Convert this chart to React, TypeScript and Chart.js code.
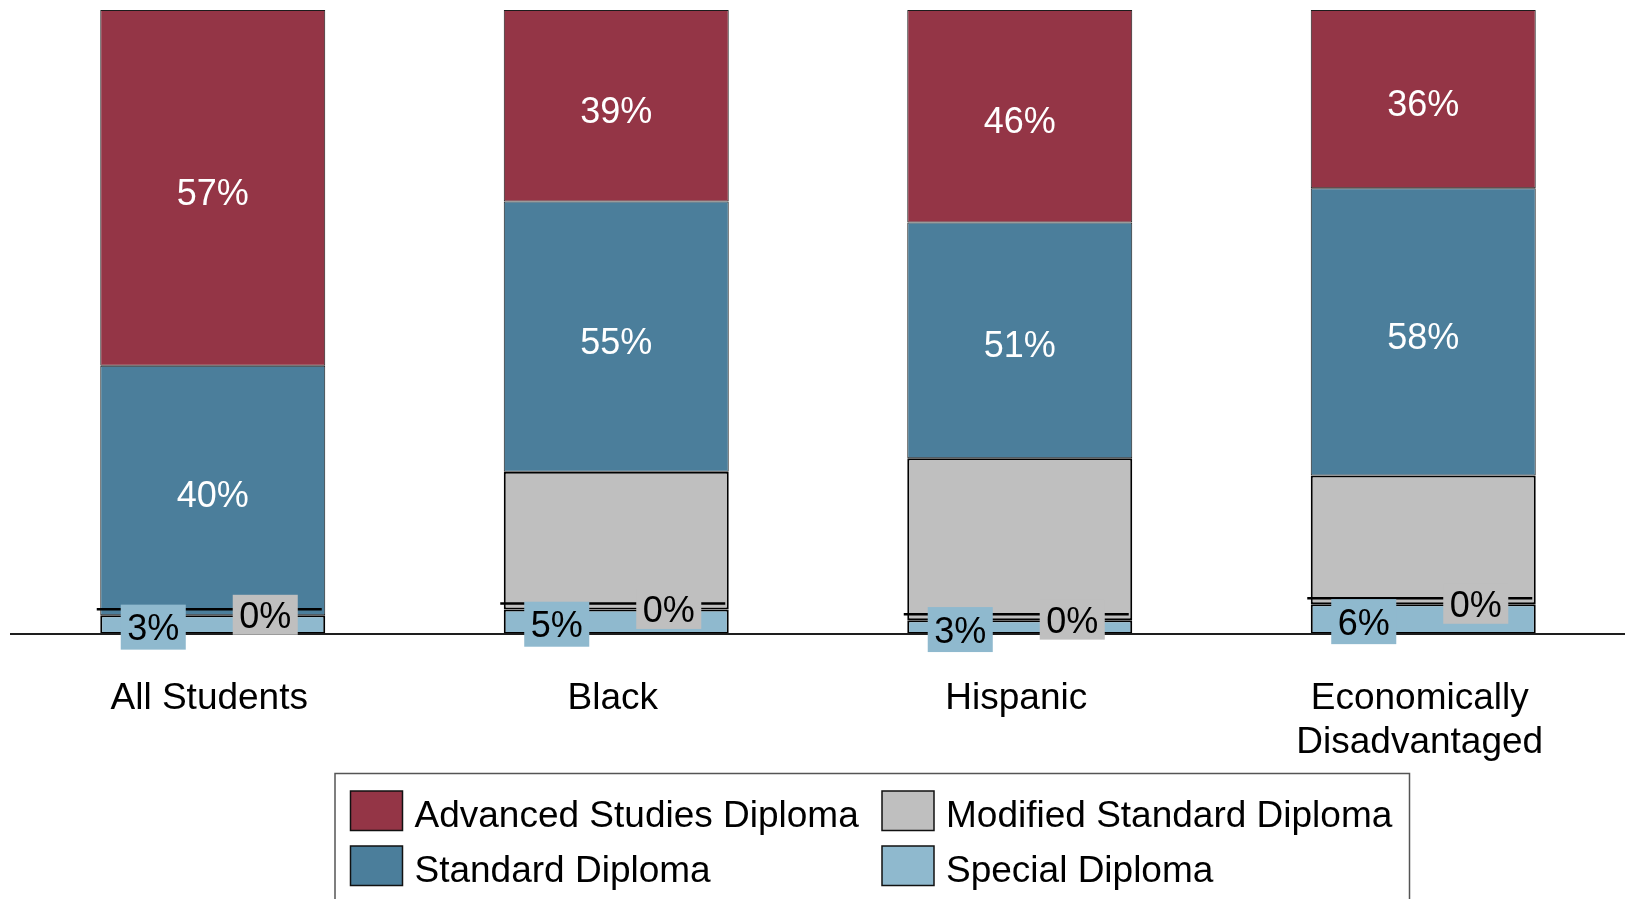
import React, { useEffect, useRef } from "react";
import { Chart, registerables } from "chart.js";

Chart.register(...registerables);

// Student groups along the x axis
const categories: string[][] = [["All Students"], ["Black"], ["Hispanic"], ["Economically", "Disadvantaged"]];

// Diploma type shares (percent, as labelled)
const advancedStudies = [57, 39, 46, 36];
const standardDiploma = [40, 55, 51, 58];
const modifiedStandard = [0, 0, 0, 0];
const specialDiploma = [3, 5, 3, 6];
// Unlabelled grey block stacked under the standard diploma segment
const otherCompleters = [0, 28, 35, 26];

const legendNames = ["Advanced Studies Diploma", "Modified Standard Diploma", "Standard Diploma", "Special Diploma"];

const COLORS = {
  advanced: "#943546",
  standard: "#4b7e9b",
  modified: "#bfbfbf",
  special: "#8fb9ce",
};

const FONT = "'Liberation Sans', Arial, Helvetica, sans-serif";

const totals = categories.map(
  (_, i) => specialDiploma[i] + modifiedStandard[i] + otherCompleters[i] + standardDiploma[i] + advancedStudies[i]
);
const toShare = (vals: number[]) => vals.map((v, i) => (v / totals[i]) * 100);

const labelPlugin = {
  id: "segmentLabels",
  afterDatasetsDraw(chart: any) {
    const ctx: CanvasRenderingContext2D = chart.ctx;
    const area = chart.chartArea;
    ctx.save();

    // zero-height modified segments show as a short rule just above the special segment
    chart.data.datasets.forEach((ds: any, di: number) => {
      if (ds.tag !== "right") return;
      chart.getDatasetMeta(di).data.forEach((el: any) => {
        const half = el.width / 2;
        ctx.strokeStyle = "#000";
        ctx.lineWidth = 2.5;
        ctx.beginPath();
        ctx.moveTo(el.x - half - 3.5, el.y - 6);
        ctx.lineTo(el.x + half - 3.5, el.y - 6);
        ctx.stroke();
      });
    });

    // x axis line
    ctx.strokeStyle = "#1e1e1e";
    ctx.lineWidth = 2;
    ctx.beginPath();
    ctx.moveTo(area.left - 1, area.bottom);
    ctx.lineTo(area.right, area.bottom);
    ctx.stroke();

    chart.data.datasets.forEach((ds: any, di: number) => {
      if (!ds.tag || ds.tag === "none") return;
      chart.getDatasetMeta(di).data.forEach((el: any, i: number) => {
        const text = `${ds.values[i]}%`;
        const mid = (el.y + el.base) / 2;
        if (ds.tag === "inside") {
          ctx.font = `36px ${FONT}`;
          ctx.fillStyle = "#ffffff";
          ctx.textAlign = "center";
          ctx.textBaseline = "alphabetic";
          ctx.fillText(text, el.x, mid + 17);
        } else {
          ctx.font = `36px ${FONT}`;
          const w = ctx.measureText(text).width + 13;
          const h = ds.tag === "left" ? 45 : 40;
          const cx = ds.tag === "left" ? el.x - 59.5 : el.x + 52.5;
          const cy = ds.tag === "left" ? mid + 2.5 : el.y - 0.5;
          ctx.fillStyle = ds.backgroundColor;
          ctx.fillRect(cx - w / 2, cy - h / 2, w, h);
          ctx.fillStyle = "#000";
          ctx.textAlign = "center";
          ctx.textBaseline = "alphabetic";
          ctx.fillText(text, cx, cy + 13);
        }
      });
    });

    // category labels under the axis
    const xScale = chart.scales.x;
    ctx.font = `37px ${FONT}`;
    ctx.fillStyle = "#000";
    ctx.textAlign = "center";
    ctx.textBaseline = "alphabetic";
    categories.forEach((lines, i) => {
      const x = xScale.getPixelForValue(i) - 3.5;
      lines.forEach((line, li) => {
        ctx.fillText(line, x, area.bottom + 75 + li * 43.5);
      });
    });

    ctx.restore();
  },
  afterDraw(chart: any) {
    const ctx: CanvasRenderingContext2D = chart.ctx;
    ctx.save();
    // legend frame (runs past the bottom edge)
    ctx.strokeStyle = "#555";
    ctx.lineWidth = 1.5;
    ctx.strokeRect(335, 773.5, 1074.5, 200);

    const swatchColors = [COLORS.advanced, COLORS.modified, COLORS.standard, COLORS.special];
    const colX = [350.5, 882];
    const rowY = [791, 846];
    ctx.font = `37px ${FONT}`;
    ctx.textAlign = "left";
    ctx.textBaseline = "alphabetic";
    legendNames.forEach((name, k) => {
      const x = colX[k % 2];
      const y = rowY[Math.floor(k / 2)];
      ctx.fillStyle = swatchColors[k];
      ctx.fillRect(x, y, 52, 39.5);
      ctx.strokeStyle = "#111";
      ctx.lineWidth = 1.5;
      ctx.strokeRect(x, y, 52, 39.5);
      ctx.fillStyle = "#000";
      ctx.fillText(name, x + 64, y + 19.75 + 16.5);
    });
    ctx.restore();
  },
};

export default function App() {
  const canvasRef = useRef<HTMLCanvasElement | null>(null);

  useEffect(() => {
    if (!canvasRef.current) return;
    const thin = { borderWidth: 1, borderColor: "#1c1c1c", borderSkipped: false };
    const thick = { borderWidth: 2, borderColor: "#000000", borderSkipped: false };
    const chart = new Chart(canvasRef.current, {
      type: "bar",
      data: {
        labels: categories.map((c) => c.join(" ")),
        datasets: [
          { label: "Special Diploma", data: toShare(specialDiploma), values: specialDiploma, tag: "left", backgroundColor: COLORS.special, ...thick },
          { label: "Modified Standard Diploma", data: toShare(modifiedStandard), values: modifiedStandard, tag: "right", backgroundColor: COLORS.modified, ...thick },
          { label: "Other Completers", data: toShare(otherCompleters), values: otherCompleters, tag: "none", backgroundColor: COLORS.modified, ...thick },
          { label: "Standard Diploma", data: toShare(standardDiploma), values: standardDiploma, tag: "inside", backgroundColor: COLORS.standard, ...thin },
          { label: "Advanced Studies Diploma", data: toShare(advancedStudies), values: advancedStudies, tag: "inside", backgroundColor: COLORS.advanced, ...thin },
        ] as any,
      },
      options: {
        responsive: false,
        devicePixelRatio: 1,
        animation: false,
        layout: { padding: { left: 11, top: 10, right: 0, bottom: 265 } },
        datasets: { bar: { categoryPercentage: 1, barPercentage: 0.5576 } },
        scales: {
          x: { stacked: true, display: false },
          y: { stacked: true, display: false, min: 0, max: 100 },
        },
        plugins: {
          legend: { display: false },
          tooltip: { enabled: false },
          title: { display: false },
        },
      } as any,
      plugins: [labelPlugin],
    });
    return () => chart.destroy();
  }, []);

  return (
    <div style={{ position: "fixed", left: 0, top: 0, width: 1625, height: 899, background: "#fff" }}>
      <canvas ref={canvasRef} width={1625} height={899} />
    </div>
  );
}
